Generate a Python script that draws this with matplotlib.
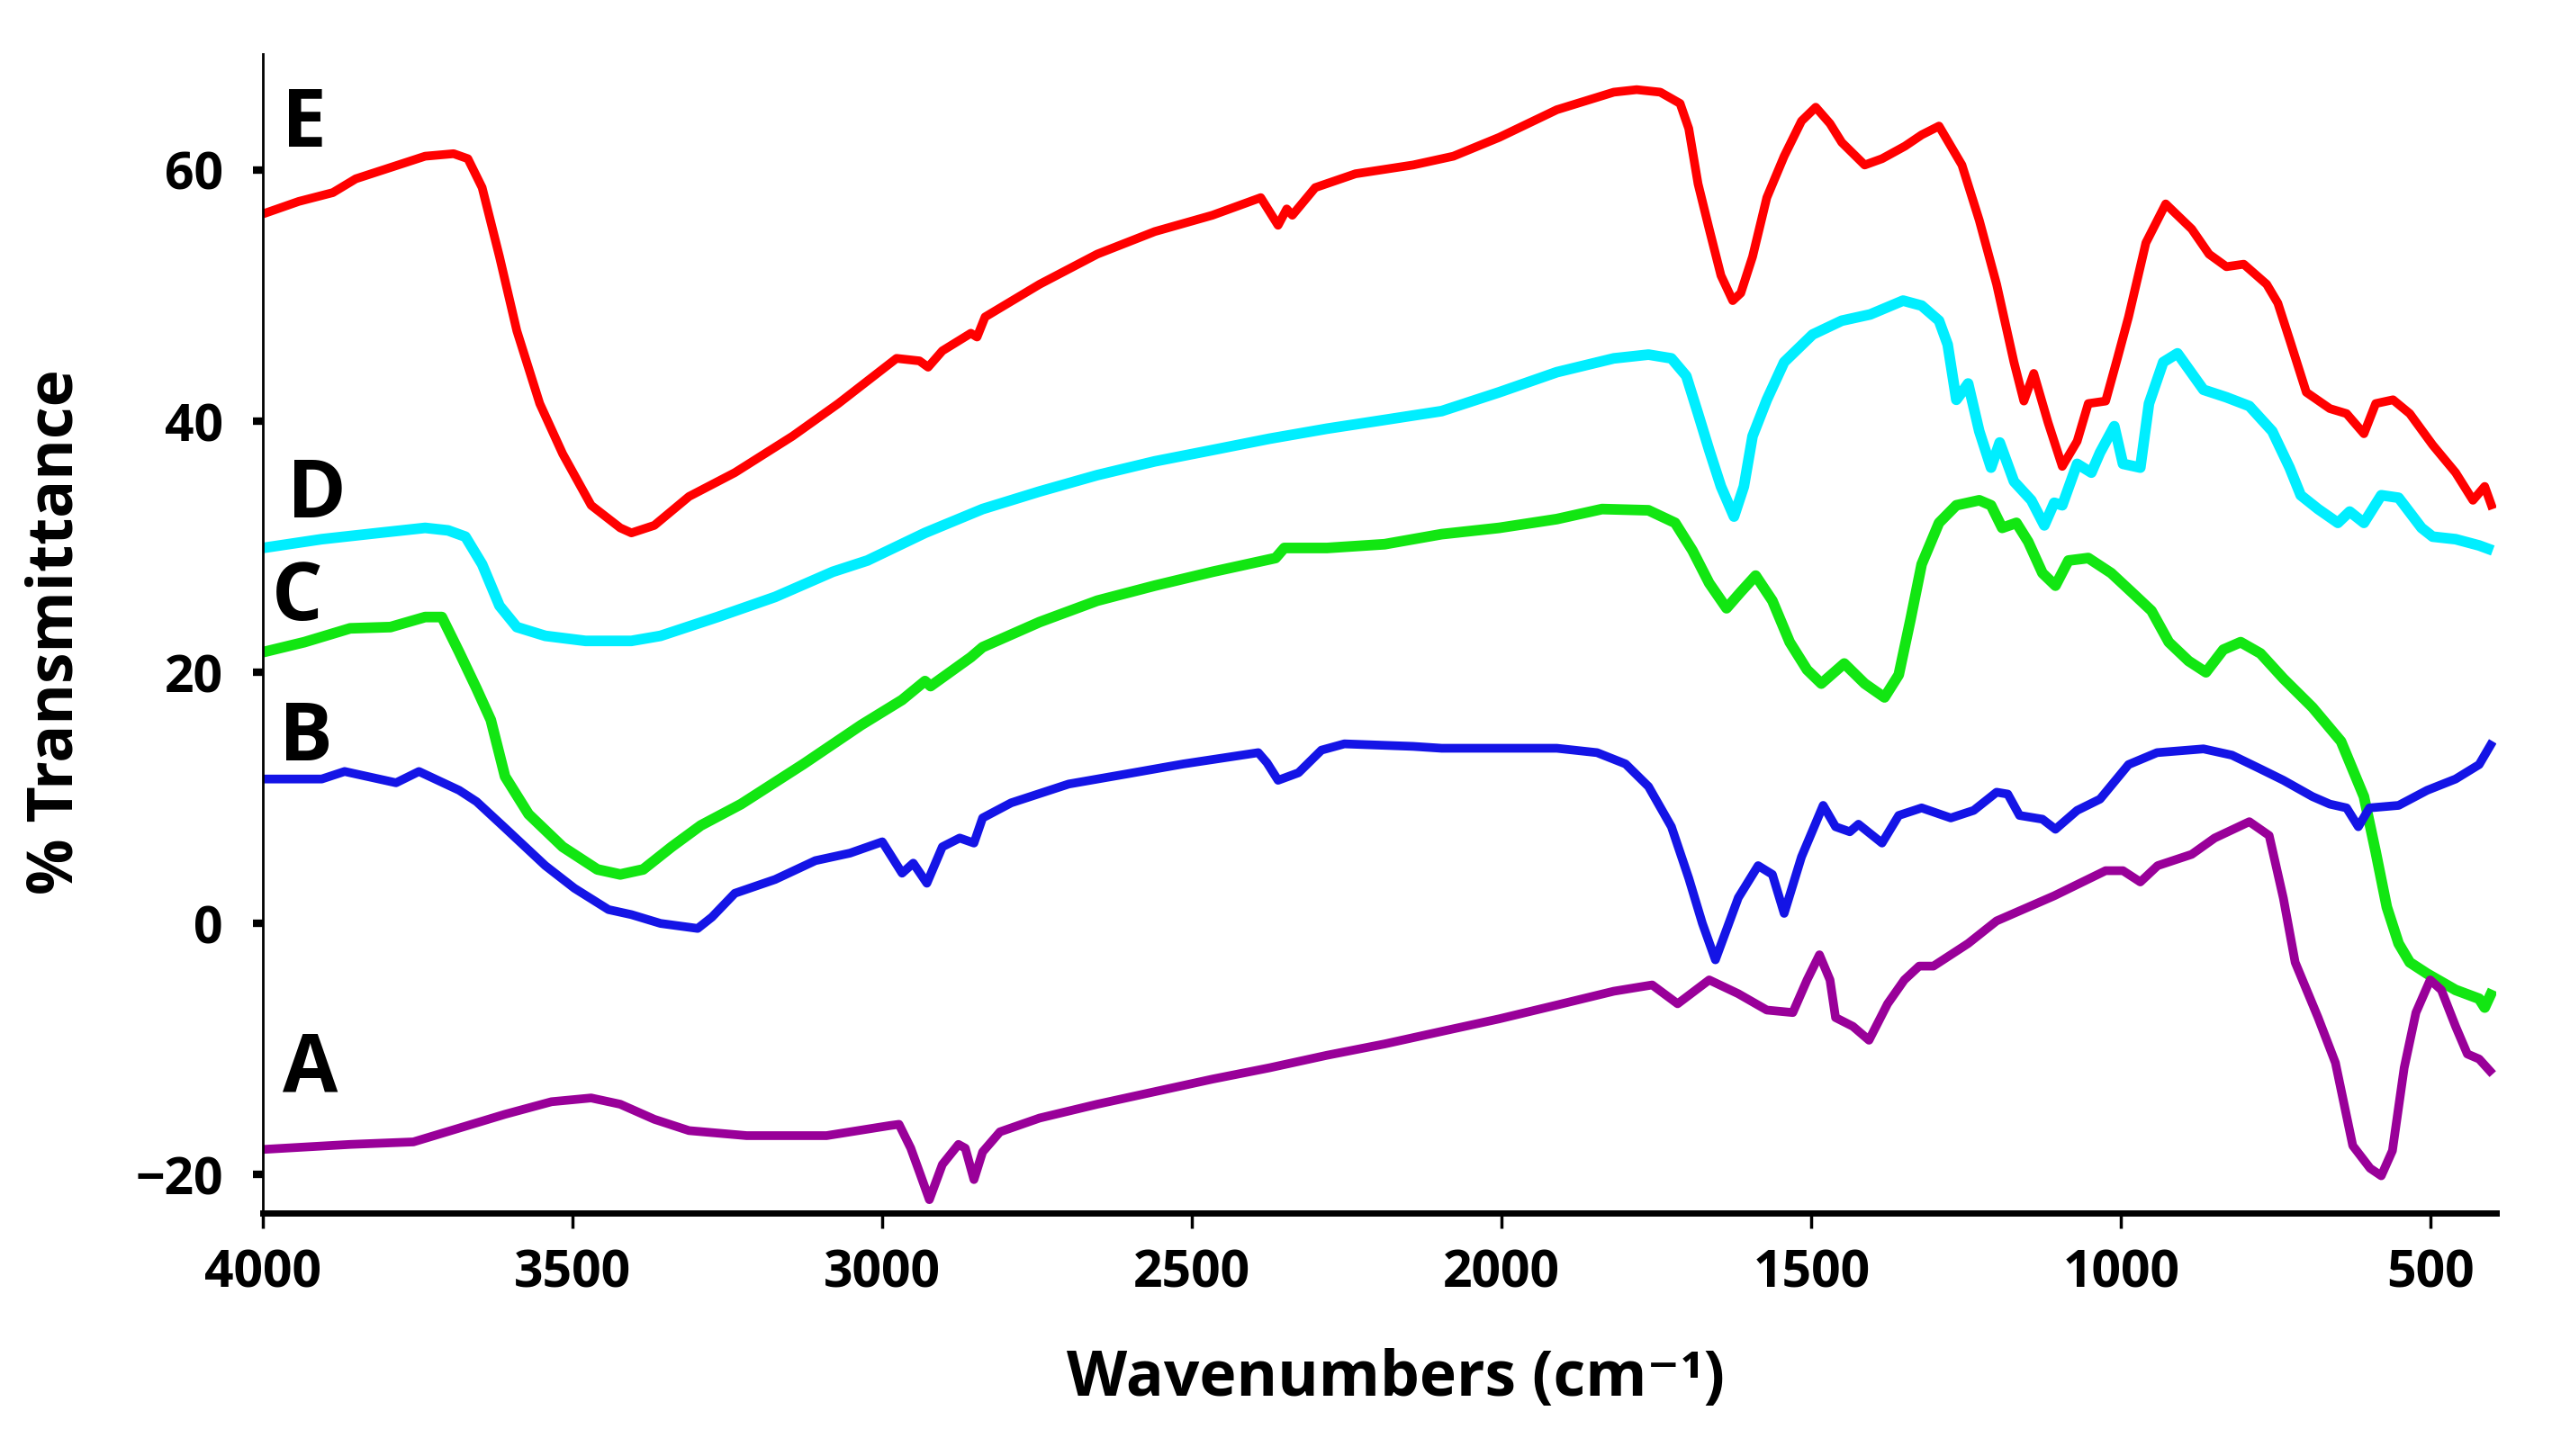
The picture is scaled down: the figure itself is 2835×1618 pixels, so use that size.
import matplotlib.pyplot as plt

# FTIR spectra, wavenumber (cm-1) vs % transmittance (offset traces)
wn_E = [4000, 3942, 3887, 3850, 3794, 3738, 3692, 3669, 3646, 3618, 3590, 3553, 3516, 3470, 3423, 3405,
        3368, 3312, 3238, 3145, 3071, 3024, 2977, 2940, 2926, 2903, 2857, 2847, 2834, 2746, 2653, 2560,
        2467, 2389, 2375, 2361, 2347, 2338, 2301, 2236, 2143, 2078, 2004, 1911, 1819, 1782, 1744, 1712,
        1698, 1683, 1665, 1646, 1627, 1614, 1595, 1572, 1544, 1516, 1493, 1470, 1451, 1414, 1386, 1349,
        1322, 1294, 1257, 1229, 1201, 1173, 1157, 1141, 1118, 1095, 1071, 1053, 1025, 1006, 988, 960,
        928, 886, 858, 830, 802, 765, 747, 728, 701, 663, 636, 608, 589, 561, 534, 497, 460, 432, 413, 400]
t_E = [56.5, 57.5, 58.2, 59.3, 60.2, 61.1, 61.3, 60.9, 58.6, 53.1, 47.2, 41.4, 37.4, 33.3, 31.5, 31.1,
       31.7, 34.0, 35.9, 38.8, 41.4, 43.2, 45.0, 44.8, 44.3, 45.6, 47.0, 46.7, 48.3, 50.9, 53.3, 55.1,
       56.4, 57.8, 56.7, 55.6, 56.9, 56.4, 58.6, 59.7, 60.4, 61.1, 62.6, 64.8, 66.2, 66.4, 66.2, 65.3,
       63.3, 58.9, 55.3, 51.6, 49.6, 50.2, 53.1, 57.8, 61.1, 63.9, 65.0, 63.7, 62.2, 60.4, 60.9, 61.9,
       62.8, 63.5, 60.4, 56.0, 50.9, 44.7, 41.6, 43.8, 39.9, 36.4, 38.4, 41.4, 41.6, 45.0, 48.3, 54.2,
       57.3, 55.3, 53.3, 52.3, 52.5, 50.9, 49.4, 46.5, 42.3, 41.0, 40.6, 39.0, 41.4, 41.7, 40.6, 38.1,
       35.9, 33.7, 34.8, 33.0]

wn_D = [4000, 3905, 3813, 3738, 3701, 3673, 3646, 3618, 3590, 3544, 3479, 3405, 3358, 3266, 3173, 3080,
        3024, 2931, 2838, 2746, 2653, 2560, 2467, 2375, 2282, 2189, 2097, 2004, 1911, 1819, 1763, 1726,
        1702, 1683, 1665, 1646, 1625, 1609, 1595, 1572, 1544, 1498, 1451, 1405, 1352, 1322, 1294, 1280,
        1266, 1257, 1247, 1229, 1210, 1196, 1173, 1145, 1124, 1108, 1095, 1071, 1048, 1034, 1011, 997,
        969, 955, 932, 909, 867, 830, 793, 756, 728, 710, 682, 650, 631, 608, 580, 552, 515, 497, 460,
        422, 400]
t_D = [29.9, 30.6, 31.1, 31.5, 31.3, 30.8, 28.6, 25.3, 23.6, 22.9, 22.5, 22.5, 22.9, 24.4, 26.0, 28.0,
       28.9, 31.1, 33.0, 34.4, 35.7, 36.8, 37.7, 38.6, 39.4, 40.1, 40.8, 42.3, 43.9, 45.0, 45.3, 45.0,
       43.6, 40.6, 37.7, 34.8, 32.4, 34.8, 38.8, 41.7, 44.7, 46.9, 48.0, 48.5, 49.6, 49.2, 48.0, 46.1,
       41.7, 42.3, 43.0, 39.2, 36.3, 38.3, 35.2, 33.7, 31.7, 33.5, 33.3, 36.6, 35.9, 37.5, 39.6, 36.6,
       36.3, 41.4, 44.7, 45.4, 42.5, 41.9, 41.2, 39.2, 36.3, 34.1, 33.0, 31.9, 32.8, 31.9, 34.1, 33.9,
       31.5, 30.8, 30.6, 30.1, 29.7]

wn_C = [4000, 3933, 3859, 3794, 3738, 3711, 3683, 3655, 3632, 3609, 3571, 3516, 3460, 3423, 3386, 3340,
        3293, 3228, 3127, 3034, 2968, 2931, 2922, 2857, 2838, 2746, 2653, 2560, 2467, 2365, 2351, 2282,
        2189, 2097, 2004, 1911, 1838, 1763, 1720, 1692, 1665, 1637, 1614, 1590, 1563, 1535, 1507, 1484,
        1447, 1414, 1382, 1359, 1340, 1322, 1294, 1266, 1229, 1210, 1192, 1169, 1150, 1127, 1106, 1085,
        1053, 1016, 979, 951, 923, 891, 863, 835, 807, 775, 738, 691, 645, 608, 589, 571, 552, 534, 506,
        460, 422, 413, 400]
t_C = [21.6, 22.4, 23.5, 23.6, 24.4, 24.4, 21.6, 18.7, 16.2, 11.7, 8.7, 6.1, 4.3, 3.9, 4.3, 6.1,
       7.8, 9.5, 12.7, 15.8, 17.8, 19.3, 18.9, 21.2, 22.0, 24.0, 25.7, 26.9, 28.0, 29.1, 29.9, 29.9,
       30.2, 31.0, 31.5, 32.2, 33.0, 32.9, 31.9, 29.7, 27.1, 25.1, 26.4, 27.7, 25.7, 22.4, 20.2, 19.1,
       20.7, 19.1, 18.0, 19.8, 24.2, 28.6, 31.9, 33.3, 33.7, 33.3, 31.5, 31.9, 30.4, 27.9, 26.9, 28.9,
       29.1, 27.9, 26.2, 24.9, 22.4, 20.9, 20.0, 21.8, 22.4, 21.5, 19.5, 17.2, 14.5, 10.1, 5.7, 1.3,
       -1.6, -3.1, -4.0, -5.3, -6.0, -6.7, -5.3]

wn_B = [4000, 3905, 3868, 3785, 3748, 3683, 3655, 3609, 3544, 3497, 3442, 3405, 3358, 3298, 3275, 3238,
        3173, 3108, 3052, 3000, 2968, 2950, 2928, 2903, 2875, 2852, 2838, 2792, 2699, 2606, 2514, 2393,
        2379, 2361, 2328, 2291, 2254, 2143, 2097, 1911, 1846, 1800, 1763, 1726, 1698, 1676, 1655, 1618,
        1586, 1563, 1544, 1516, 1481, 1461, 1438, 1424, 1386, 1359, 1322, 1275, 1238, 1201, 1183, 1164,
        1127, 1106, 1071, 1034, 988, 942, 867, 821, 775, 738, 691, 663, 636, 617, 599, 552, 506, 460,
        422, 400]
t_B = [11.5, 11.5, 12.1, 11.2, 12.1, 10.6, 9.7, 7.6, 4.6, 2.8, 1.1, 0.7, 0.0, -0.4, 0.5, 2.4,
       3.5, 5.0, 5.6, 6.5, 4.0, 4.8, 3.2, 6.1, 6.8, 6.4, 8.4, 9.6, 11.1, 11.9, 12.7, 13.6,
       12.8, 11.4, 12.0, 13.8, 14.3, 14.1, 13.95, 13.95, 13.6, 12.7, 10.9, 7.7, 3.6, 0.0, -2.9, 2.05,
       4.6, 3.9, 0.8, 5.3, 9.4, 7.7, 7.3, 7.9, 6.4, 8.6, 9.2, 8.4, 9.0, 10.45, 10.3, 8.6,
       8.3, 7.5, 9.0, 9.9, 12.65, 13.6, 13.9, 13.4, 12.3, 11.4, 10.1, 9.5, 9.2, 7.7, 9.2, 9.4, 10.6, 11.5,
       12.65, 14.5]

wn_A = [4000, 3859, 3757, 3683, 3609, 3534, 3470, 3423, 3368, 3312, 3219, 3090, 2988, 2973, 2954, 2940,
        2924, 2903, 2877, 2866, 2852, 2838, 2810, 2746, 2653, 2560, 2467, 2375, 2282, 2189, 2097, 2004,
        1911, 1819, 1757, 1716, 1665, 1618, 1572, 1530, 1507, 1487, 1470, 1461, 1433, 1407, 1377, 1350,
        1326, 1303, 1247, 1201, 1108, 1025, 997, 969, 941, 886, 849, 793, 761, 738, 719, 682, 654, 626,
        598, 580, 562, 543, 524, 501, 483, 460, 441, 422, 400]
t_A = [-18.0, -17.6, -17.4, -16.3, -15.2, -14.2, -13.9, -14.4, -15.6, -16.5, -16.9, -16.9, -16.1, -16.0, -17.9, -19.8,
       -22.0, -19.2, -17.6, -17.9, -20.4, -18.2, -16.6, -15.5, -14.4, -13.4, -12.4, -11.5, -10.5, -9.6, -8.6, -7.6,
       -6.5, -5.4, -4.9, -6.4, -4.5, -5.6, -6.9, -7.1, -4.5, -2.5, -4.5, -7.5, -8.2, -9.3, -6.4, -4.5,
       -3.4, -3.4, -1.6, 0.2, 2.2, 4.2, 4.2, 3.3, 4.6, 5.5, 6.8, 8.1, 7.0, 2.0, -3.1, -7.5, -11.1, -17.7,
       -19.5, -20.1, -18.1, -11.5, -7.1, -4.5, -5.3, -8.2, -10.4, -10.8, -12.0]

labels = ["E", "D", "C", "B", "A"]
label_wn = [3933, 3913, 3945, 3930, 3924]
label_t = [63.5, 34.0, 25.8, 14.6, -11.7]
y_ticks = [-20, 0, 20, 40, 60]
x_ticks = [4000, 3500, 3000, 2500, 2000, 1500, 1000, 500]

series = [
    (wn_E, t_E, "#ff0000", 7),
    (wn_D, t_D, "#00eeff", 8.5),
    (wn_C, t_C, "#12e612", 8.5),
    (wn_B, t_B, "#1414e6", 7),
    (wn_A, t_A, "#990099", 7),
]

fig = plt.figure(figsize=(28.35, 16.18), dpi=100)
ax = fig.add_axes([0.103, 0.167, 0.875, 0.796])

for wn, t, col, lw in series:
    ax.plot(wn, t, color=col, lw=lw, solid_joinstyle="round", solid_capstyle="butt")

for lab, x, y in zip(labels, label_wn, label_t):
    ax.text(x, y, lab, fontsize=64, fontweight="bold", family="Open Sans",
            ha="center", va="center")

ax.set_xlim(4000, 395)
ax.set_ylim(-23.05, 69.25)
ax.set_xticks(x_ticks)
ax.set_yticks(y_ticks)
ax.set_xticklabels([str(v) for v in x_ticks], fontsize=41, fontweight="bold", family="Open Sans")
ax.set_yticklabels([str(v).replace("-", "\u2212") for v in y_ticks], fontsize=41,
                   fontweight="bold", family=["Open Sans", "DejaVu Sans"])

ax.spines["top"].set_visible(False)
ax.spines["right"].set_visible(False)
ax.spines["left"].set_linewidth(2)
ax.spines["bottom"].set_linewidth(5)
ax.tick_params(axis="x", direction="out", length=12, width=2.5, pad=16)
ax.tick_params(axis="y", direction="out", length=8, width=6, pad=24)

fig.text(0.022, 0.566, "% Transmittance", rotation=90, fontsize=50, fontweight="bold",
         family="Open Sans", ha="center", va="center")
fig.text(0.547, 0.0525, "Wavenumbers (cm\u207b\u00b9)", fontsize=50, fontweight="bold",
         family=["Open Sans", "DejaVu Sans"], ha="center", va="center")

fig.savefig("out.png", dpi=100)
